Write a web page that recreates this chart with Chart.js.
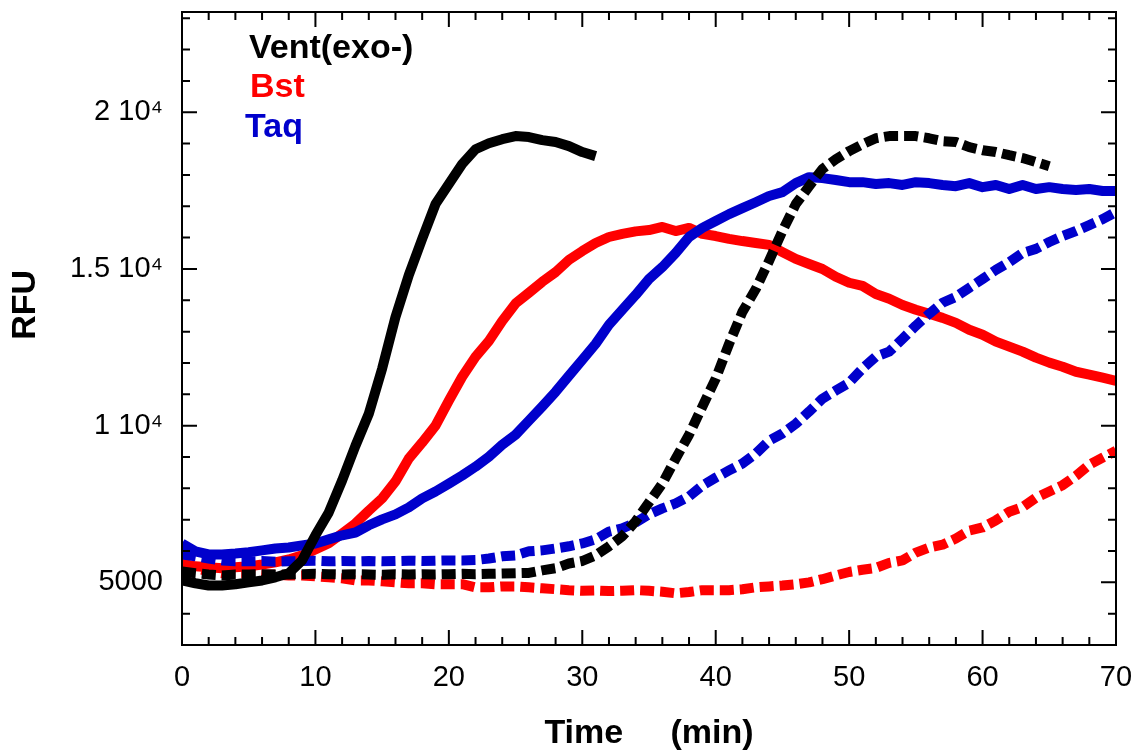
<!DOCTYPE html>
<html><head><meta charset="utf-8">
<script src="https://cdn.jsdelivr.net/npm/chart.js@4/dist/chart.umd.min.js"></script>
<style>html,body{margin:0;padding:0;background:#fff;}canvas{display:block;}</style>
</head><body>
<canvas id="c" width="1136" height="751"></canvas>
<script>
// ---- data (time in min, RFU) ----
const times = [0,1,2,3,4,5,6,7,8,9,10,11,12,13,14,15,16,17,18,19,20,21,22,23,24,25,26,27,28,29,30,31,32,33,34,35,36,37,38,39,40,41,42,43,44,45,46,47,48,49,50,51,52,53,54,55,56,57,58,59,60,61,62,63,64,65,66,67,68,69,70];

const ventSolid = [5060,4970,4900,4900,4940,5000,5060,5160,5290,5700,6500,7230,8250,9360,10380,11820,13470,14810,15960,17070,17710,18350,18820,19010,19140,19240,19210,19110,19050,18920,18730,18600];

const ventDashed = [5350,5290,5250,5220,5250,5250,5260,5250,5250,5260,5270,5260,5250,5260,5250,5240,5260,5250,5260,5250,5260,5270,5260,5270,5280,5290,5300,5380,5450,5600,5680,5860,6150,6470,6950,7550,8150,8950,9710,10610,11500,12610,13630,14360,15260,16210,17070,17640,18190,18500,18760,18980,19170,19240,19240,19240,19170,19080,19050,18890,18790,18730,18630,18540,18410,18280];

const bstSolid = [5600,5510,5480,5450,5480,5510,5570,5640,5730,5860,6050,6250,6560,6880,7290,7680,8220,8950,9460,10000,10800,11560,12200,12700,13340,13900,14240,14590,14900,15290,15570,15830,16020,16120,16200,16240,16340,16210,16310,16120,16050,15960,15890,15830,15770,15540,15320,15160,15000,14750,14560,14460,14200,14050,13850,13700,13570,13440,13280,13060,12900,12680,12520,12360,12170,12010,11880,11720,11630,11530,11430];

const bstDashed = [5540,5450,5350,5290,5290,5290,5250,5250,5220,5220,5190,5160,5130,5060,5060,5030,5000,4970,4970,4940,4940,4940,4840,4840,4870,4870,4840,4810,4780,4750,4730,4740,4720,4730,4750,4730,4700,4650,4690,4750,4750,4750,4780,4840,4870,4900,4940,5000,5100,5220,5330,5400,5460,5620,5700,5950,6110,6200,6400,6650,6750,6980,7250,7400,7700,7900,8100,8400,8750,8980,9200];

const taqSolid = [6240,5990,5890,5890,5920,5960,6020,6080,6110,6180,6240,6370,6500,6590,6820,7010,7170,7390,7680,7900,8150,8410,8690,9010,9390,9710,10160,10610,11080,11590,12100,12610,13220,13700,14170,14680,15060,15510,16020,16310,16530,16750,16940,17130,17330,17450,17740,17930,17900,17840,17770,17770,17710,17740,17680,17770,17740,17680,17640,17740,17610,17680,17550,17680,17550,17610,17550,17520,17550,17490,17490];

const taqDashed = [5890,5830,5760,5700,5670,5670,5680,5660,5670,5680,5690,5670,5680,5670,5680,5670,5680,5690,5680,5690,5700,5700,5710,5760,5830,5860,5990,6020,6080,6150,6240,6370,6620,6720,6910,7170,7360,7520,7740,8090,8340,8570,8790,9110,9520,9750,10060,10450,10860,11120,11370,11820,12200,12360,12770,13190,13570,13920,14110,14400,14680,14970,15220,15510,15640,15860,16050,16210,16400,16590,16820];

const legendLabels = ['Vent(exo-)', 'Bst', 'Taq'];
const xTickValues = [0,10,20,30,40,50,60,70];
const yTickValues = [5000,10000,15000,20000];
const yTickLabels = ['5000','1 10\u2074','1.5 10\u2074','2 10\u2074'];

// ---- styling ----
const FONT = "'Liberation Sans', Arial, Helvetica, sans-serif";
const BLACK = '#000000', RED = '#ff0000', BLUE = '#0000cc';
const legendColors = [BLACK, RED, BLUE];

function pts(vals){ return vals.map((v,i)=>({x: times[i], y: v})); }
function ds(vals, color, dashed){
  return {data: pts(vals), borderColor: color, backgroundColor: color,
    borderWidth: 10, borderDash: dashed ? [14,6] : [], pointRadius: 0,
    tension: 0, fill: false, borderJoinStyle: 'round'};
}
function noPad(s){ s.paddingTop = 0; s.paddingBottom = 0; s.paddingLeft = 0; s.paddingRight = 0; }

const frameTicks = {
  id: 'frameTicks',
  afterDatasetsDraw(chart){
    const {ctx, chartArea: a, scales: {x, y}} = chart;
    ctx.save();
    ctx.strokeStyle = '#000'; ctx.lineWidth = 2; ctx.setLineDash([]);
    ctx.beginPath();
    for (let v = x.min; v <= x.max + 1e-9; v += 2){
      const px = x.getPixelForValue(v);
      const len = (v % 10 === 0) ? 15 : 8;
      ctx.moveTo(px, a.bottom); ctx.lineTo(px, a.bottom - len);
      ctx.moveTo(px, a.top); ctx.lineTo(px, a.top + len);
    }
    for (let v = 3000; v <= y.max + 1e-9; v += 1000){
      const py = y.getPixelForValue(v);
      const len = (v % 5000 === 0) ? 15 : 8;
      ctx.moveTo(a.left, py); ctx.lineTo(a.left + len, py);
      ctx.moveTo(a.right, py); ctx.lineTo(a.right - len, py);
    }
    ctx.stroke();
    ctx.strokeRect(a.left, a.top, a.right - a.left, a.bottom - a.top);
    ctx.restore();
  }
};

const inlineLegend = {
  id: 'inlineLegend',
  afterDraw(chart){
    const ctx = chart.ctx;
    ctx.save();
    ctx.font = 'bold 34px ' + FONT;
    ctx.textBaseline = 'middle';
    ctx.textAlign = 'left';
    const ys = [49, 88, 128];
    const xs = [249, 250, 245];
    legendLabels.forEach((t,i)=>{ ctx.fillStyle = legendColors[i]; ctx.fillText(t, xs[i], ys[i]); });
    ctx.restore();
  }
};

new Chart(document.getElementById('c'), {
  type: 'line',
  data: {
    datasets: [
      ds(ventDashed, BLACK, true),
      ds(ventSolid, BLACK, false),
      ds(taqDashed, BLUE, true),
      ds(taqSolid, BLUE, false),
      ds(bstSolid, RED, false),
      ds(bstDashed, RED, true)
    ]
  },
  options: {
    responsive: false, animation: false, devicePixelRatio: 1,
    layout: {padding: {top: 12, right: 20, left: 0, bottom: 0}},
    plugins: {legend: {display: false}, tooltip: {enabled: false}},
    scales: {
      x: {
        type: 'linear', min: 0, max: 70,
        afterBuildTicks: s => { s.ticks = xTickValues.map(v=>({value: v})); },
        afterFit: s => { s.height = 106; noPad(s); },
        grid: {display: false, drawTicks: false},
        border: {display: false},
        ticks: {color: '#000', font: {family: FONT, size: 29}, padding: 16, maxRotation: 0, autoSkip: false,
          callback: v => String(v)},
        title: {display: true, text: 'Time     (min)', color: '#000',
          font: {family: FONT, size: 34, weight: 'bold'}, padding: {top: 0, bottom: -3}}
      },
      y: {
        type: 'linear', min: 3000, max: 23200,
        afterBuildTicks: s => { s.ticks = yTickValues.map(v=>({value: v})); },
        afterFit: s => { s.width = 182; noPad(s); },
        grid: {display: false, drawTicks: false},
        border: {display: false},
        ticks: {color: '#000', font: {family: FONT, size: 29}, padding: 19, autoSkip: false,
          callback: v => yTickLabels[yTickValues.indexOf(v)]},
        title: {display: true, text: '     RFU', color: '#000',
          font: {family: FONT, size: 34, weight: 'bold'}, padding: {top: 5, bottom: 0}}
      }
    }
  },
  plugins: [frameTicks, inlineLegend]
});
</script>
</body></html>
